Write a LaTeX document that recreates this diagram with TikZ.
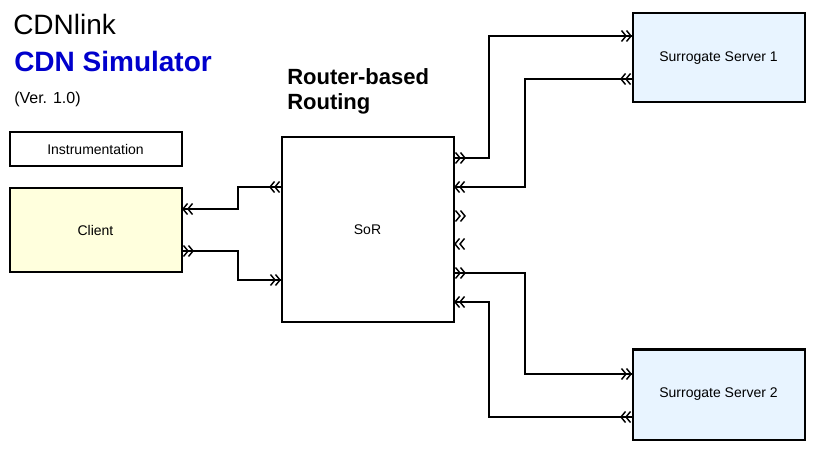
\documentclass[tikz,border=0pt]{standalone}
\usepackage{fontspec}
\setmainfont{Liberation Sans}
\definecolor{clientfill}{RGB}{255,255,221}
\definecolor{serverfill}{RGB}{232,244,255}
\definecolor{titleblue}{RGB}{0,0,204}
\begin{document}
\begin{tikzpicture}[x=0.75pt,y=-0.75pt,
  box/.style={draw=black,line width=1.5pt,inner sep=0pt,font=\fontsize{10.5pt}{12pt}\selectfont},
  conn/.style={line width=1.5pt,line join=miter},
  chevline/.style={line width=1.1pt},
  chev/.pic={\draw[chevline] (0.5,-5.5)--(5,0)--(0.5,5.5) (-4.5,-5.5)--(0,0)--(-4.5,5.5);}
]
\useasboundingbox (0,0) rectangle (814,452);
% title texts
\node[anchor=base west,inner sep=0pt,font=\fontsize{21pt}{24pt}\selectfont] (t1) at (13,35) {CDNlink};
\node[anchor=base west,inner sep=0pt,text=titleblue,font=\fontsize{21pt}{24pt}\selectfont\bfseries] (t2) at (14,72) {CDN Simulator};
\node[anchor=base west,inner sep=0pt,font=\fontsize{12pt}{14pt}\selectfont] (t3) at (14,104) {(Ver. 1.0)};
\node[anchor=base west,inner sep=0pt,font=\fontsize{16.5pt}{18pt}\selectfont\bfseries] (t4) at (287,85) {Router-based};
\node[anchor=base west,inner sep=0pt,font=\fontsize{16.5pt}{18pt}\selectfont\bfseries] (t5) at (287,110) {Routing};
% boxes
\node[box,fill=white,minimum width=172*0.75pt,minimum height=34*0.75pt] (instr) at (95.5,149.5) {Instrumentation};
\node[box,fill=clientfill,minimum width=172*0.75pt,minimum height=84*0.75pt] (client) at (95.5,230) {Client};
\node[box,fill=white,minimum width=172*0.75pt,minimum height=185*0.75pt] (sor) at (367.5,230) {SoR};
\node[box,fill=serverfill,minimum width=172*0.75pt,minimum height=89*0.75pt] (ss1) at (718.5,58) {Surrogate Server 1};
\node[box,fill=serverfill,minimum width=172*0.75pt,minimum height=90*0.75pt] (ss2) at (718.5,394.5) {Surrogate Server 2};
% port points on box edges
\coordinate (cliIn) at (182,209);
\coordinate (cliOut) at (182,251);
\coordinate (sorLo) at (281,187);
\coordinate (sorLi) at (281,280);
\coordinate (sorR1) at (454,158);
\coordinate (sorR2) at (454,187);
\coordinate (sorR3) at (454,216);
\coordinate (sorR4) at (454,244);
\coordinate (sorR5) at (454,273);
\coordinate (sorR6) at (454,302);
\coordinate (ss1i) at (632,36);
\coordinate (ss1o) at (632,79);
\coordinate (ss2i) at (632,374);
\coordinate (ss2o) at (632,417);
% connectors
\draw[conn] (cliOut) -- (238,251) |- (sorLi);
\draw[conn] (sorLo) -- (238,187) |- (cliIn);
\draw[conn] (sorR1) -- (489,158) |- (ss1i);
\draw[conn] (ss1o) -- (525,79) |- (sorR2);
\draw[conn] (sorR5) -- (525,273) |- (ss2i);
\draw[conn] (ss2o) -- (489,417) |- (sorR6);
% port glyphs
\pic at (188,251) {chev};
\pic[rotate=180] at (188,209) {chev};
\pic[rotate=180] at (275,187) {chev};
\pic at (275,280) {chev};
\pic at (460,158) {chev};
\pic[rotate=180] at (460,187) {chev};
\pic at (460,216) {chev};
\pic[rotate=180] at (460,244) {chev};
\pic at (460,273) {chev};
\pic[rotate=180] at (460,302) {chev};
\pic at (626,36) {chev};
\pic[rotate=180] at (626,79) {chev};
\pic at (626,374) {chev};
\pic[rotate=180] at (626,417) {chev};
\end{tikzpicture}
\end{document}
